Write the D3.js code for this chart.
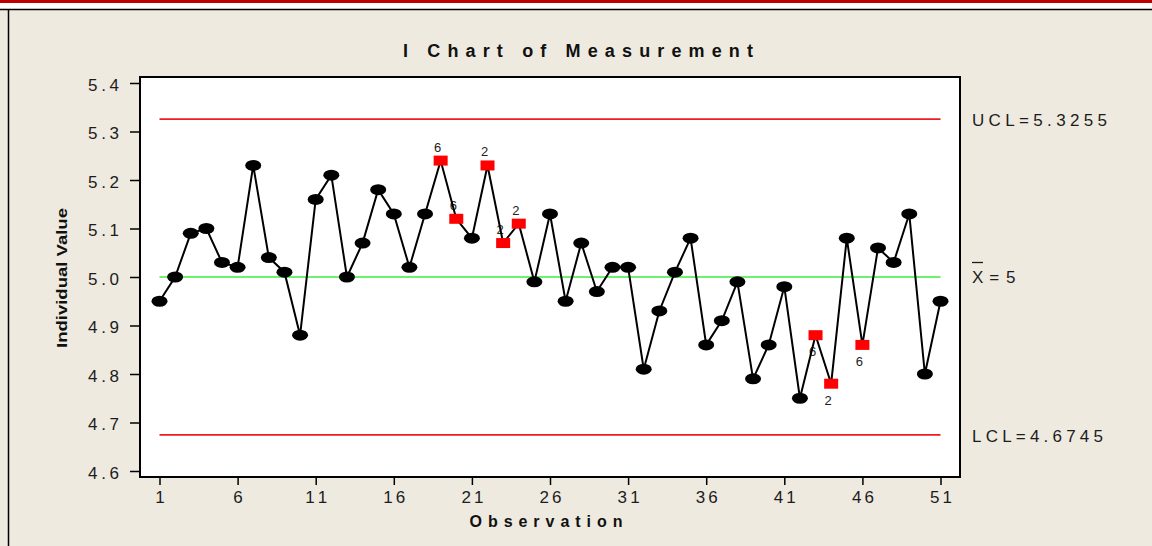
<!DOCTYPE html>
<html><head><meta charset="utf-8">
<script src="https://cdn.jsdelivr.net/npm/d3@7"></script>
<style>
html,body{margin:0;padding:0;background:#EEEAE0;overflow:hidden;}
svg{display:block;font-family:"Liberation Sans",Arial,sans-serif;}
</style></head>
<body>
<svg id="chart" width="1152" height="546"></svg>
<script>
// ---- data ----
const title = "I Chart of Measurement";
const xLabel = "Observation";
const yLabel = "Individual Value";
const observations = d3.range(1, 52);
const values = [4.95,5.00,5.09,5.10,5.03,5.02,5.23,5.04,5.01,4.88,
                5.16,5.21,5.00,5.07,5.18,5.13,5.02,5.13,5.24,5.12,
                5.08,5.23,5.07,5.11,4.99,5.13,4.95,5.07,4.97,5.02,
                5.02,4.81,4.93,5.01,5.08,4.86,4.91,4.99,4.79,4.86,
                4.98,4.75,4.88,4.78,5.08,4.86,5.06,5.03,5.13,4.80,4.95];
const flaggedObs = [19,20,22,23,24,43,44,46];
const flaggedTest = ["6","6","2","2","2","6","2","6"];
const xTicks = [1,6,11,16,21,26,31,36,41,46,51];
const yTicks = [4.6,4.7,4.8,4.9,5.0,5.1,5.2,5.3,5.4];
const UCL = 5.3255, CL = 5, LCL = 4.6745;
const limitLabels = ["UCL=5.3255","= 5","LCL=4.6745"];

// ---- drawing ----
const svg = d3.select("#chart");
const plot = {left:140, right:960, top:77, bottom:477};
const x = d3.scaleLinear().domain([1,51]).range([159.5,940.5]);
const y = d3.scaleLinear().domain([4.6,5.4]).range([471,83]);
const txt = "#1c1c1c";

// background
svg.append("rect").attr("x",0).attr("y",0).attr("width",1152).attr("height",546).attr("fill","#EEEAE0");
// top decoration
svg.append("rect").attr("x",0).attr("y",0).attr("width",1152).attr("height",9).attr("fill","#ffffff");
svg.append("rect").attr("x",0).attr("y",0).attr("width",1152).attr("height",3).attr("fill","#C00000");
svg.append("line").attr("x1",0).attr("x2",1152).attr("y1",9.5).attr("y2",9.5).attr("stroke","#000").attr("stroke-width",1.5);
svg.append("line").attr("x1",8.5).attr("x2",8.5).attr("y1",9.5).attr("y2",546).attr("stroke","#000").attr("stroke-width",1.5);

// plot background
svg.append("rect").attr("x",plot.left).attr("y",plot.top)
  .attr("width",plot.right-plot.left).attr("height",plot.bottom-plot.top).attr("fill","#fff");

// title
svg.append("text").attr("x",578).attr("y",57).attr("text-anchor","middle")
  .attr("font-size",18).attr("font-weight","bold").attr("fill","#111")
  .attr("textLength",350).attr("lengthAdjust","spacing").text(title);

// axes
const yAxis = d3.axisLeft(y).tickValues(yTicks).tickFormat(d3.format(".1f")).tickSize(10).tickPadding(0);
const gy = svg.append("g").attr("transform",`translate(${plot.left},0)`).call(yAxis);
gy.select(".domain").remove();
gy.selectAll(".tick line").attr("stroke","#000").attr("stroke-width",1.5);
gy.selectAll(".tick text").attr("x",-21).attr("dy","0.42em").attr("font-size",17)
  .attr("fill",txt).attr("font-family","Liberation Sans, Arial")
  .attr("textLength",31).attr("lengthAdjust","spacing");

const xAxis = d3.axisBottom(x).tickValues(xTicks).tickFormat(d3.format("d")).tickSize(8).tickPadding(0);
const gx = svg.append("g").attr("transform",`translate(0,${plot.bottom})`).call(xAxis);
gx.select(".domain").remove();
gx.selectAll(".tick line").attr("stroke","#000").attr("stroke-width",1.5);
gx.selectAll(".tick text").attr("y",26).attr("dy",0).attr("font-size",17).attr("fill",txt)
  .attr("font-family","Liberation Sans, Arial")
  .each(function(d){ if (String(d).length>1) d3.select(this).attr("textLength",22).attr("lengthAdjust","spacing"); });

// plot border
svg.append("rect").attr("x",plot.left).attr("y",plot.top)
  .attr("width",plot.right-plot.left).attr("height",plot.bottom-plot.top)
  .attr("fill","none").attr("stroke","#000").attr("stroke-width",2);

// axis titles
svg.append("text").attr("x",546).attr("y",527).attr("text-anchor","middle")
  .attr("font-size",16).attr("font-weight","bold").attr("fill","#111")
  .attr("textLength",153).attr("lengthAdjust","spacing").text(xLabel);
svg.append("text").attr("transform","translate(67,278) rotate(-90)").attr("text-anchor","middle")
  .attr("font-size",15).attr("font-weight","bold").attr("fill","#111")
  .attr("textLength",140).attr("lengthAdjust","spacingAndGlyphs").text(yLabel);

// control lines
const limits = [{v:UCL,c:"#EE1C1C"},{v:CL,c:"#3CEE3C"},{v:LCL,c:"#EE1C1C"}];
svg.selectAll(".limit").data(limits).enter().append("line")
  .attr("x1",x(1)).attr("x2",x(51)).attr("y1",d=>y(d.v)).attr("y2",d=>y(d.v))
  .attr("stroke",d=>d.c).attr("stroke-width",1.6);

// limit labels
svg.append("text").attr("x",972).attr("y",y(UCL)+7).attr("font-size",17).attr("fill",txt)
  .attr("textLength",135).attr("lengthAdjust","spacing").text(limitLabels[0]);
const xb = svg.append("text").attr("x",972).attr("y",y(CL)+6).attr("font-size",17).attr("fill",txt);
xb.append("tspan").text("X");
xb.append("tspan").attr("dx",6).attr("textLength",26).attr("lengthAdjust","spacing").text(limitLabels[1]);
svg.append("line").attr("x1",972).attr("x2",983).attr("y1",y(CL)-14.5).attr("y2",y(CL)-14.5)
  .attr("stroke",txt).attr("stroke-width",1.3);
svg.append("text").attr("x",972).attr("y",y(LCL)+7).attr("font-size",17).attr("fill",txt)
  .attr("textLength",131).attr("lengthAdjust","spacing").text(limitLabels[2]);

// data
const pts = observations.map((o,i)=>({o, v:values[i], flag: flaggedTest[flaggedObs.indexOf(o)]}));

// flag labels (drawn under the line)
svg.selectAll(".flaglab").data(pts.filter(d=>d.flag)).enter().append("text")
  .attr("x",d=>x(d.o)-3).attr("y",d=>d.v>CL ? y(d.v)-9 : y(d.v)+21)
  .attr("text-anchor","middle").attr("font-size",13).attr("fill","#222").text(d=>d.flag);

svg.append("path").datum(pts)
  .attr("d",d3.line().x(d=>x(d.o)).y(d=>y(d.v)))
  .attr("fill","none").attr("stroke","#000").attr("stroke-width",2);

svg.selectAll(".pt").data(pts.filter(d=>!d.flag)).enter().append("ellipse")
  .attr("cx",d=>x(d.o)).attr("cy",d=>y(d.v)).attr("rx",8).attr("ry",5.5).attr("fill","#000");
svg.selectAll(".sq").data(pts.filter(d=>d.flag)).enter().append("rect")
  .attr("x",d=>x(d.o)-7).attr("y",d=>y(d.v)-5).attr("width",14).attr("height",10).attr("fill","#FF0000");
</script>
</body></html>
